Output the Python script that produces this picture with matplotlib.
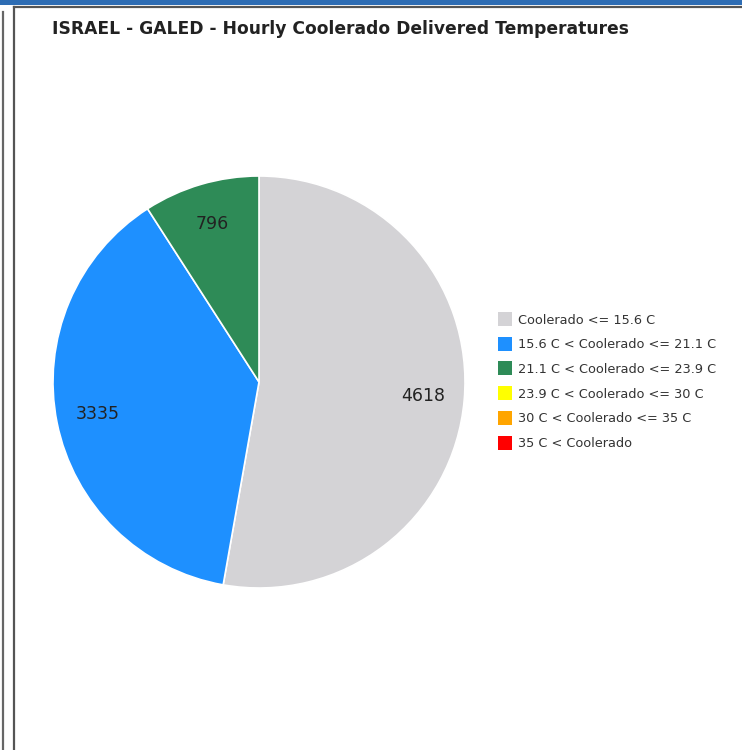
import matplotlib
matplotlib.use("Agg")
import matplotlib.pyplot as plt
from matplotlib.patches import Rectangle
from matplotlib.lines import Line2D
import numpy as np

title = "ISRAEL - GALED - Hourly Coolerado Delivered Temperatures"
categories = ["Coolerado <= 15.6 C", "15.6 C < Coolerado <= 21.1 C",
              "21.1 C < Coolerado <= 23.9 C", "23.9 C < Coolerado <= 30 C",
              "30 C < Coolerado <= 35 C", "35 C < Coolerado"]
values = [4618, 3335, 796, 0, 0, 0]
colors = ["#D4D3D6", "#1E90FF", "#2E8B57", "#FFFF00", "#FFA500", "#FF0000"]

W, H = 742, 750
fig = plt.figure(figsize=(W / 100, H / 100), dpi=100)
plt.rcParams['font.family'] = ['DejaVu Sans']

def fx(x): return x / W
def fy(y): return 1 - y / H

# frame decorations
fig.patches.append(Rectangle((0, fy(5)), 1, 5 / H, transform=fig.transFigure,
                             facecolor="#2E6DB4", edgecolor="none"))
fig.lines.append(Line2D([fx(14), 1], [fy(7), fy(7)], transform=fig.transFigure,
                        color="#555555", lw=1.6))
fig.lines.append(Line2D([fx(3), fx(3)], [fy(12), 0], transform=fig.transFigure,
                        color="#666666", lw=1.6))
fig.lines.append(Line2D([fx(14), fx(14)], [fy(7), 0], transform=fig.transFigure,
                        color="#555555", lw=1.6))

fig.text(fx(52), fy(28.5), title, fontsize=12.3, fontweight="bold",
         color="#222222", ha="left", va="center")

# pie
cx, cy, r = 259, 382, 206
ax = fig.add_axes([fx(cx - r), fy(cy + r), 2 * r / W, 2 * r / H])
ax.axis("off")
nz = [(v, c) for v, c in zip(values, colors) if v > 0]
wedges, _ = ax.pie([v for v, _ in nz], colors=[c for _, c in nz], startangle=90,
                   counterclock=False, radius=1,
                   wedgeprops=dict(edgecolor="white", linewidth=1.2))
ax.set_aspect("auto")
ax.set_xlim(-1, 1)
ax.set_ylim(-1, 1)
for w, (v, _) in zip(wedges, nz):
    ang = np.deg2rad((w.theta1 + w.theta2) / 2)
    ax.text(0.8 * np.cos(ang), 0.8 * np.sin(ang), str(v), ha="center",
            va="center", fontsize=12.5, color="#222222")

# legend
y0, dy = 319, 24.7
for i, (lab, c) in enumerate(zip(categories, colors)):
    y = y0 + i * dy
    fig.patches.append(Rectangle((fx(498), fy(y + 7)), 14 / W, 14 / H,
                                 transform=fig.transFigure, facecolor=c,
                                 edgecolor="none"))
    fig.text(fx(518), fy(y + 1), lab, fontsize=9.3, color="#333333",
             ha="left", va="center")

fig.savefig("out.png", dpi=100)
